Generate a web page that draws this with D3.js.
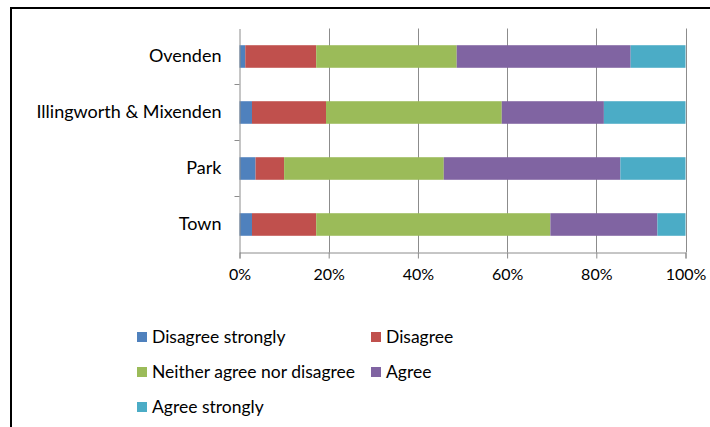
<!DOCTYPE html>
<html><head><meta charset="utf-8">
<script src="https://cdn.jsdelivr.net/npm/d3@7"></script>
<style>html,body{margin:0;padding:0;background:#fff;}svg{display:block;font-family:Lato,"Open Sans",sans-serif;}</style>
</head><body><svg id="c" width="710" height="427"></svg>
<script>
const categories = ["Ovenden", "Illingworth & Mixenden", "Park", "Town"];
const seriesNames = ["Disagree strongly", "Disagree", "Neither agree nor disagree", "Agree", "Agree strongly"];
const colors = ["#4F81BD", "#C0504D", "#9BBB59", "#8064A2", "#4BACC6"];
const disagreeStrongly = [1.3, 2.8, 3.6, 2.8];
const disagree = [15.9, 16.6, 6.4, 14.4];
const neither = [31.5, 39.4, 35.8, 52.5];
const agree = [39.0, 22.9, 39.6, 24.0];
const agreeStrongly = [12.3, 18.3, 14.6, 6.3];
const xTicks = [0, 0.2, 0.4, 0.6, 0.8, 1.0];

const seriesValues = [disagreeStrongly, disagree, neither, agree, agreeStrongly];
const rows = categories.map((c, i) => {
  const o = {cat: c};
  seriesNames.forEach((s, j) => o[s] = seriesValues[j][i]);
  const tot = seriesNames.reduce((a, s) => a + o[s], 0);
  seriesNames.forEach(s => o[s] = o[s] / tot);
  return o;
});
const stack = d3.stack().keys(seriesNames)(rows);

const svg = d3.select("#c");
svg.append("line").attr("x1", 10).attr("x2", 710).attr("y1", 8).attr("y2", 8).attr("stroke", "#000").attr("stroke-width", 2);
svg.append("line").attr("x1", 11).attr("x2", 11).attr("y1", 7).attr("y2", 427).attr("stroke", "#000").attr("stroke-width", 2);

const L = 239.5, R = 685.5, T = 28.5, B = 252.5;
const x = d3.scaleLinear().domain([0, 1]).range([L, R]);
const y = d3.scaleBand().domain(categories).range([T, B]).padding(0);
const barH = y.bandwidth() * 0.403;

svg.append("g").selectAll("line").data(xTicks.slice(1)).join("line")
  .attr("x1", d => Math.round(x(d)) + 0.5).attr("x2", d => Math.round(x(d)) + 0.5)
  .attr("y1", T).attr("y2", B).attr("stroke", "#8c8c8c").attr("stroke-width", 1);

svg.append("g").selectAll("g").data(stack).join("g")
  .attr("fill", (d, i) => colors[i])
  .selectAll("rect").data(d => d).join("rect")
  .attr("x", d => x(d[0])).attr("width", d => x(d[1]) - x(d[0]))
  .attr("y", d => y(d.data.cat) + (y.bandwidth() - barH) / 2).attr("height", barH);

const xa = svg.append("g").attr("transform", `translate(0,${B})`)
  .call(d3.axisBottom(x).tickValues(xTicks).tickFormat(d3.format(".0%")).tickSize(6).tickPadding(10));
xa.select(".domain").attr("stroke", "#8c8c8c");
xa.selectAll(".tick line").attr("stroke", "#8c8c8c");
xa.selectAll("text").attr("font-size", 16).attr("fill", "#000").attr("font-family", "Lato");

const ya = svg.append("g").attr("transform", `translate(${L},0)`)
  .call(d3.axisLeft(y).tickSize(0).tickPadding(18));
ya.select(".domain").attr("stroke", "#8c8c8c");
ya.selectAll("text").attr("font-size", 18).attr("fill", "#000").attr("font-family", "Lato");
svg.append("g").selectAll("line").data(categories.slice(1)).join("line")
  .attr("x1", L - 5).attr("x2", L).attr("y1", d => y(d)).attr("y2", d => y(d))
  .attr("stroke", "#8c8c8c");

const legendPos = [[137, 337], [371, 337], [137, 372], [371, 372], [137, 407]];
const lg = svg.append("g").selectAll("g").data(seriesNames).join("g")
  .attr("transform", (d, i) => `translate(${legendPos[i][0]},${legendPos[i][1]})`);
lg.append("rect").attr("x", 0).attr("y", -5).attr("width", 10).attr("height", 10).attr("fill", (d, i) => colors[i]);
lg.append("text").attr("x", 15).attr("y", 0).attr("dy", "0.35em").attr("font-size", 17.5).attr("font-family", "Lato").text(d => d);
</script></body></html>
